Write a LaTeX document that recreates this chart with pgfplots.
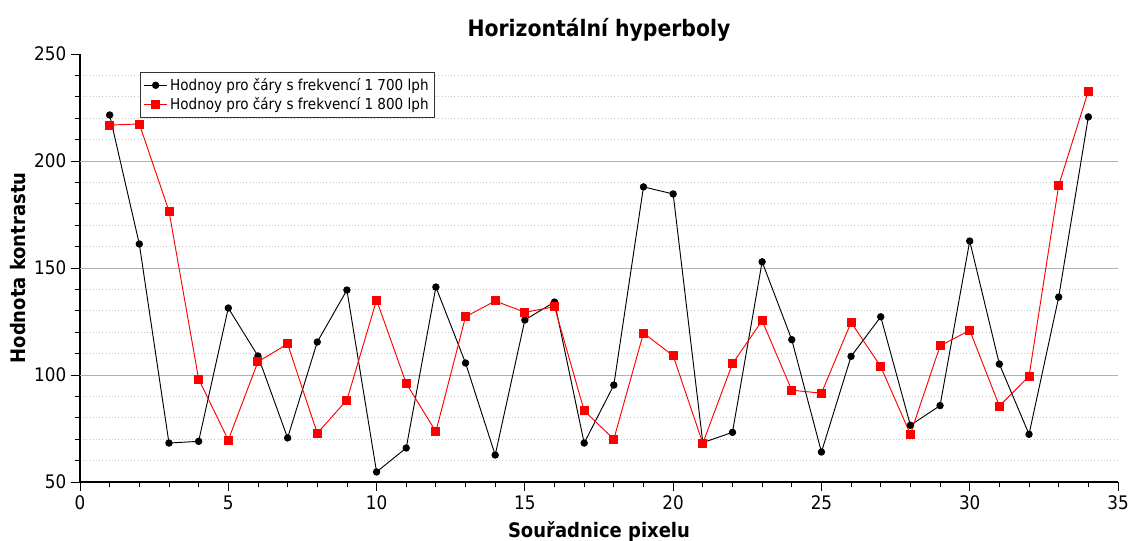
\documentclass[border=0pt]{standalone}
\usepackage{fontspec}
\setmainfont{DejaVu Sans Condensed}
\usepackage{pgfplots}
\pgfplotsset{compat=1.18}
\usetikzlibrary{calc}

\pgfplotstableread{
x  a     b
1  221.5 216.8
2  161.2 217.3
3  68.2  176.6
4  69.0  98.1
5  131.3 69.6
6  108.9 106.2
7  70.6  114.5
8  115.4 72.8
9  139.7 88.3
10 54.7  135.0
11 65.9  96.1
12 141.1 73.5
13 105.6 127.2
14 62.6  134.6
15 125.7 129.3
16 134.1 131.9
17 68.2  83.3
18 95.3  70.0
19 187.9 119.6
20 184.6 109.0
21 68.4  68.1
22 73.2  105.3
23 152.9 125.4
24 116.5 92.9
25 64.0  91.5
26 108.7 124.6
27 127.2 103.9
28 76.5  72.3
29 85.7  113.6
30 162.6 120.9
31 105.1 85.5
32 72.3  99.4
33 136.4 188.6
34 220.6 232.7
}\data

\begin{document}
\begin{tikzpicture}
\begin{axis}[
 scale only axis,
 width=778.5pt, height=321pt,
 xmin=0, xmax=35, ymin=50, ymax=250,
 axis lines=left,
 axis line style={-, black, line width=0.8pt},
 xtick={0,5,...,35}, ytick={50,100,...,250},
 minor x tick num=4, minor y tick num=4,
 tick align=outside,
 major tick length=6.75pt, minor tick length=4pt,
 tick style={black, line width=0.6pt},
 yminorgrids,
 extra y ticks={100,150,200},
 extra y tick labels={},
 extra y tick style={ymajorgrids=true, major tick length=0pt},
 major grid style={gray!60, line width=0.7pt},
 minor grid style={gray!45, dotted, line width=0.6pt},
 ticklabel style={font=\fontsize{14}{16}\selectfont},
 /pgf/number format/assume math mode=true,
 title={\bfseries Horizontální hyperboly},
 title style={font=\fontsize{17}{20}\selectfont, yshift=0pt},
 xlabel={\bfseries Souřadnice pixelu},
 ylabel={\bfseries Hodnota kontrastu},
 label style={font=\fontsize{15}{18}\selectfont},
 xlabel style={yshift=-2pt},
 ylabel style={yshift=-7pt},
 legend style={at={(0.058,0.958)}, anchor=north west, draw=black!80,
   font=\fontsize{11.3}{13}\selectfont, row sep=0pt, inner sep=2.5pt},
 legend cell align=left,
]
\addplot[black, line width=0.7pt, mark=*, mark size=2.4pt] table[x=x,y=a] {\data};
\addplot[red, line width=0.7pt, mark=square*, mark size=3pt] table[x=x,y=b] {\data};
\legend{Hodnoy pro čáry s frekvencí 1 700 lph, Hodnoy pro čáry s frekvencí 1 800 lph}
\end{axis}
\pgfresetboundingbox
\useasboundingbox ($(current axis.south west)+(-60pt,-44.25pt)$) rectangle ($(current axis.north east)+(9.75pt,40.5pt)$);
\end{tikzpicture}
\end{document}
